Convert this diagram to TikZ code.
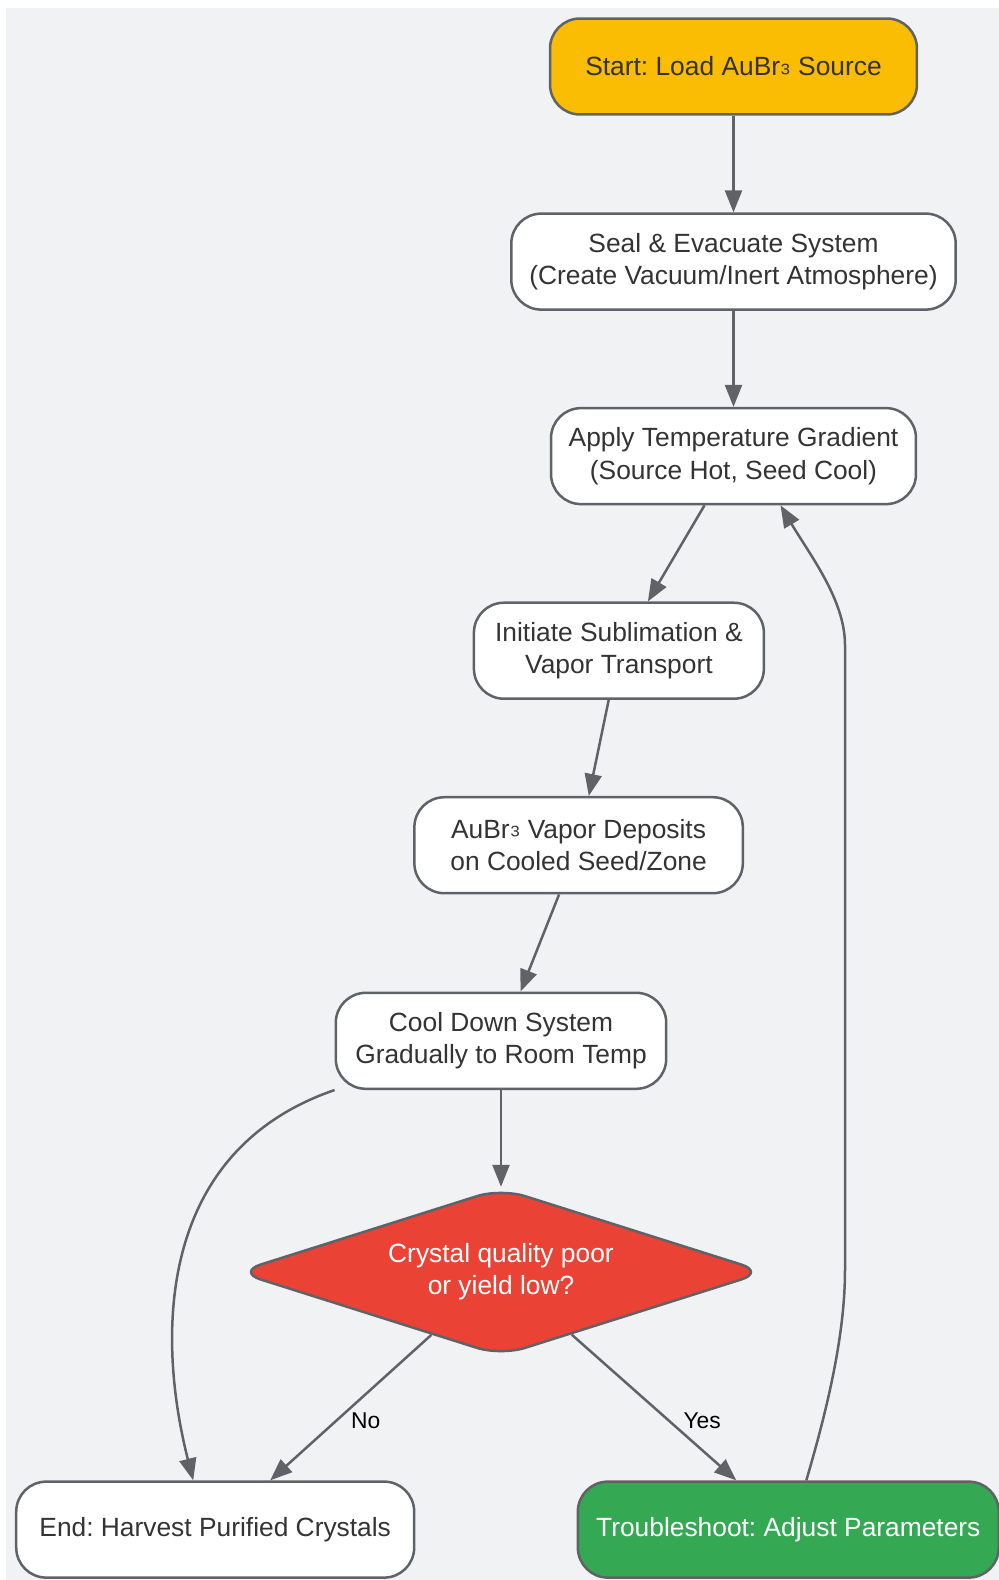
\documentclass[tikz,border=0pt]{standalone}
\usepackage{fontspec}
\setmainfont{Liberation Sans}
\frenchspacing
\usetikzlibrary{shapes.geometric,arrows.meta,positioning}
\definecolor{bggray}{HTML}{F1F2F4}
\definecolor{linegray}{HTML}{5F6368}
\definecolor{textdark}{HTML}{333333}
\definecolor{startyellow}{HTML}{FBBC04}
\definecolor{decisionred}{HTML}{EA4335}
\definecolor{fixgreen}{HTML}{34A853}
\begin{document}
\begin{tikzpicture}[x=0.02cm,y=-0.02cm,
  stepbox/.style={rectangle,rounded corners=0.6cm,draw=linegray,line width=0.05cm,fill=white,text=textdark,minimum height=1.92cm,inner xsep=0.2cm,align=center,font=\fontsize{15}{18.4}\selectfont},
  decision/.style={diamond,aspect=3.15,rounded corners=0.5cm,draw=linegray,line width=0.05cm,fill=decisionred,text=white,inner sep=0pt,minimum width=10.58cm,minimum height=3.36cm,align=center,font=\fontsize{15}{18.4}\selectfont},
  flow/.style={draw=linegray,line width=0.05cm,-{Triangle[length=0.44cm,width=0.34cm]}},
  answer/.style={inner sep=0pt,font=\fontsize{13}{15}\selectfont}]
\useasboundingbox (0,0) rectangle (999,1580);
\fill[bggray] (6,8) rectangle (999,1580);
\node[stepbox,fill=startyellow,minimum width=7.34cm] (start) at (733.5,66.5) {Start: Load AuBr\raisebox{0.14em}{₃} Source};
\node[stepbox,minimum width=8.89cm] (seal) at (733.5,261.6) {Seal \& Evacuate System\\(Create Vacuum/Inert Atmosphere)};
\draw[flow] (start)--(seal);
\node[stepbox,minimum width=7.3cm] (apply) at (733.5,456.1) {Apply Temperature Gradient\\(Source Hot, Seed Cool)};
\draw[flow] (seal)--(apply);
\node[stepbox,minimum width=5.8cm] (initiate) at (618.9,650.7) {Initiate Sublimation \&\\Vapor Transport};
\draw[flow] (apply)--(initiate);
\node[stepbox,minimum width=6.57cm] (vapor) at (578.6,845.2) {AuBr\raisebox{0.14em}{₃} Vapor Deposits\\on Cooled Seed/Zone};
\draw[flow] (initiate)--(vapor);
\node[stepbox,minimum width=6.61cm] (cool) at (501,1040.8) {Cool Down System\\Gradually to Room Temp};
\draw[flow] (vapor)--(cool);
\node[decision] (check) at (501,1272) {Crystal quality poor\\or yield low?};
\draw[flow] (cool)--(check);
\node[stepbox,minimum width=7.96cm] (harvest) at (215.2,1529.6) {End: Harvest Purified Crystals};
\node[stepbox,fill=fixgreen,text=white,minimum width=8.42cm] (fix) at (788.3,1529.6) {Troubleshoot: Adjust Parameters};
\draw[flow] (cool.south west) .. controls (160,1150) and (155,1330) .. ([xshift=-0.44cm]harvest.north);
\draw[flow] (check)-- node[answer,pos=0.59,right=0.27cm] {No} ([xshift=1.1cm]harvest.north);
\draw[flow] (check)-- node[answer,pos=0.59,right=0.27cm] {Yes} ([xshift=-1.04cm]fix.north);
\draw[flow] ([xshift=0.36cm]fix.north) .. controls (830,1400) and (845,1330) .. (845,1270) -- (845,645) .. controls (845,600) and (810,555) .. ([xshift=0.94cm]apply.south);
\end{tikzpicture}
\end{document}
